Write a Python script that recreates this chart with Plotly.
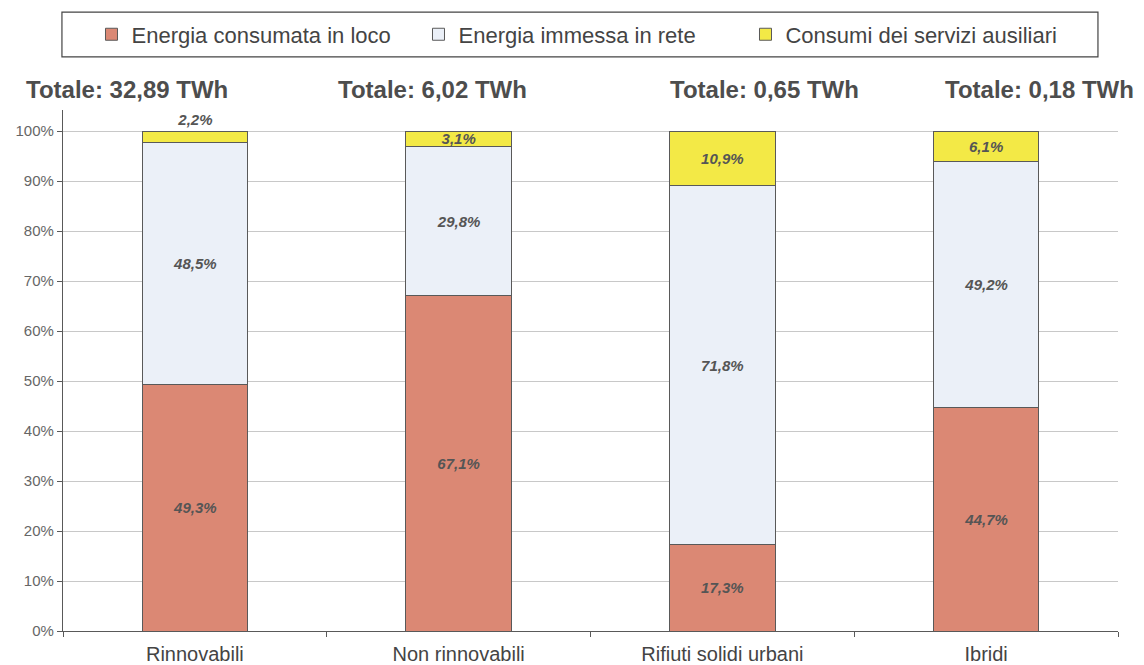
# Stacked 100% bars: destinazione dell'energia prodotta per tipologia di impianto
# stacks divided by energia consumata in loco, immessa in rete, servizi ausiliari

import plotly.graph_objects as go

# Add data
categorie = ["Rinnovabili", "Non rinnovabili", "Rifiuti solidi urbani", "Ibridi"]
totali = ["32,89", "6,02", "0,65", "0,18"]  # TWh
consumata_in_loco = [49.3, 67.1, 17.3, 44.7]
immessa_in_rete = [48.5, 29.8, 71.8, 49.2]
servizi_ausiliari = [2.2, 3.1, 10.9, 6.1]

y_ticks = list(range(0, 101, 10))
y_tick_labels = [f"{v}%" for v in y_ticks]

FONT = "Liberation Sans, Arial, sans-serif"
GREY_TEXT = "#555555"
LINE = "#595959"


def etichette(values):
    return [f"{v:.1f}%".replace(".", ",") for v in values]


label_font = dict(family=FONT, size=15, color=GREY_TEXT, style="italic", weight="bold")

serie = [
    ("Energia consumata in loco", consumata_in_loco, "#DB8874", ["inside"] * 4),
    ("Energia immessa in rete", immessa_in_rete, "#EBF0F8", ["inside"] * 4),
    ("Consumi dei servizi ausiliari", servizi_ausiliari, "#F3E946",
     ["outside", "inside", "inside", "inside"]),
]

# Make stacked bar chart
fig = go.Figure()
for nome, valori, colore, posizioni in serie:
    fig.add_trace(
        go.Bar(
            name=nome,
            x=categorie,
            y=valori,
            width=0.4,
            text=etichette(valori),
            textposition=posizioni,
            insidetextanchor="middle",
            textangle=0,
            constraintext="none",
            textfont=label_font,
            marker=dict(color=colore, line=dict(color=LINE, width=1)),
            hovertemplate="%{x}: %{y:.1f}%<extra>" + nome + "</extra>",
        )
    )

# page body has an 8px margin, so the figure is 1136x657 and sits at (8, 8)
fig.update_layout(
    barmode="stack",
    plot_bgcolor="white",
    paper_bgcolor="white",
    font=dict(family=FONT, color="#444444"),
    autosize=False,
    width=1136,
    height=657,
    margin=dict(l=55, r=26, t=102, b=34, autoexpand=False),
    showlegend=True,
    legend=dict(
        orientation="h",
        x=0.027,
        xanchor="left",
        y=1.145,
        yanchor="middle",
        font=dict(family=FONT, size=22, color="#444444"),
        entrywidth=282,
        entrywidthmode="pixels",
        itemwidth=30,
        bgcolor="rgba(0,0,0,0)",
        traceorder="normal",
    ),
)

# legend frame
fig.add_shape(
    type="rect",
    xref="paper",
    yref="paper",
    x0=-0.001,
    x1=0.981,
    y0=1.102,
    y1=1.188,
    line=dict(color="#444444", width=1.2),
    fillcolor="rgba(0,0,0,0)",
    layer="below",
)

# "Totale" headings above each bar
totale_x = [0.0607, 0.3507, 0.6654, 0.926]
for tx, tot in zip(totale_x, totali):
    fig.add_annotation(
        x=tx,
        y=1.040,
        xref="paper",
        yref="paper",
        text=f"Totale: {tot} TWh",
        showarrow=False,
        xanchor="center",
        yanchor="middle",
        font=dict(family=FONT, size=24, color="#4d4d4d", weight="bold"),
    )

# modify y-axis
fig.update_yaxes(
    range=[0, 104.2],
    tickvals=y_ticks,
    ticktext=y_tick_labels,
    tickfont=dict(family=FONT, size=15, color="#666666"),
    showgrid=True,
    gridcolor="#c8c8c8",
    gridwidth=1,
    showline=True,
    linecolor=LINE,
    linewidth=1.2,
    ticks="outside",
    ticklen=5,
    tickcolor=LINE,
    zeroline=False,
    automargin=False,
    fixedrange=True,
)

# modify x-axis
fig.update_xaxes(
    range=[-0.5, 3.5],
    tickfont=dict(family=FONT, size=20, color="#444444"),
    showline=True,
    linecolor=LINE,
    linewidth=1.2,
    ticks="outside",
    tickson="boundaries",
    ticklen=5,
    tickcolor=LINE,
    ticklabelstandoff=5,
    showgrid=False,
    automargin=False,
    fixedrange=True,
)

fig.write_html("out.html")
